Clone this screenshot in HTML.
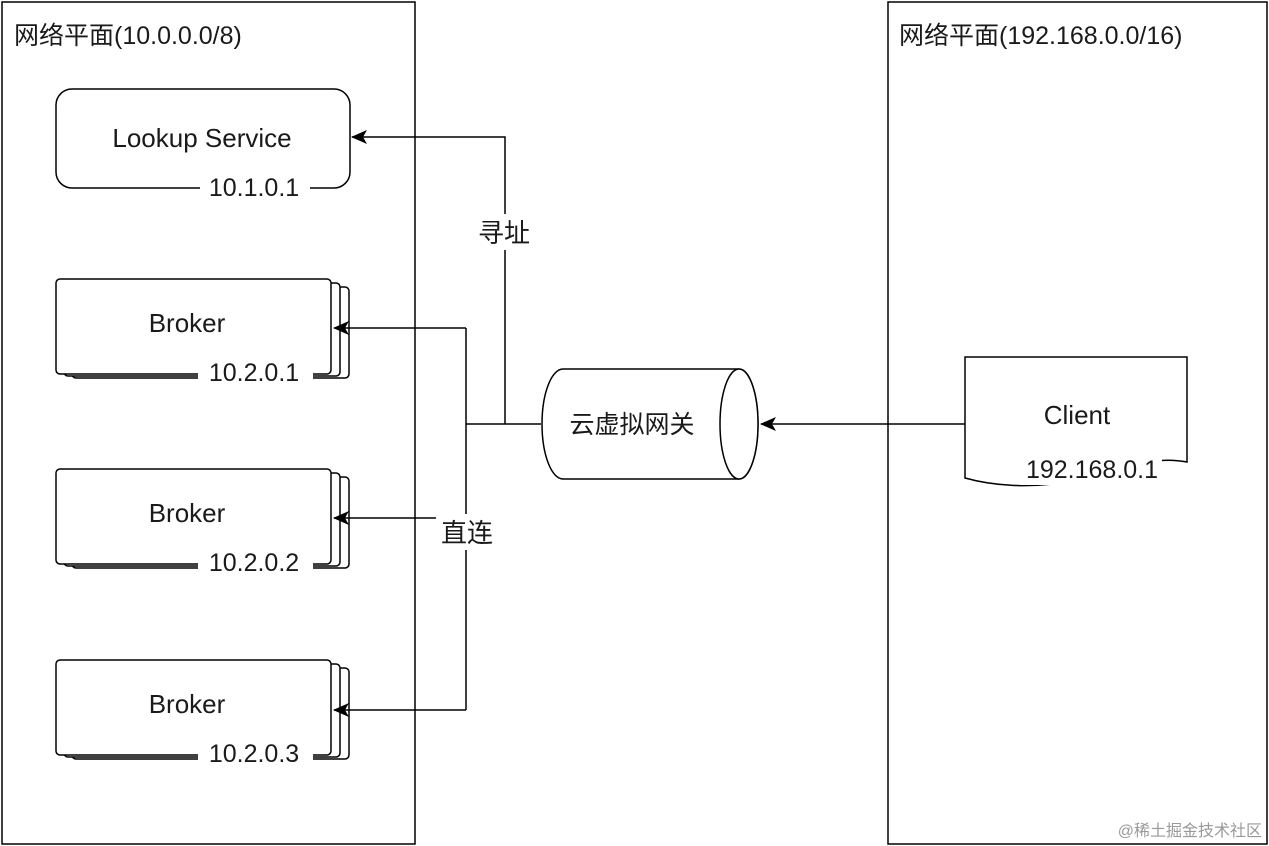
<!DOCTYPE html>
<html><head><meta charset="utf-8"><style>
html,body{margin:0;padding:0;background:#fff;}
svg{display:block;}
text{font-family:"Liberation Sans","Noto Sans CJK SC",sans-serif;fill:#1a1a1a;}
</style></head><body>
<svg width="1269" height="846" viewBox="0 0 1269 846" xmlns="http://www.w3.org/2000/svg">
<defs>
<marker id="ar" markerWidth="16" markerHeight="14" refX="15" refY="7" orient="auto" markerUnits="userSpaceOnUse">
<path d="M0,0 L16,7 L0,14 L4,7 Z" fill="#000"/>
</marker>
</defs>
<g fill="none" stroke="#000" stroke-width="1.5">
<rect x="2" y="2" width="413" height="842"/>
<rect x="888" y="2" width="379" height="842"/>
<rect x="56" y="89" width="294" height="99" rx="16"/>
</g>
<text x="14" y="44" font-size="25">网络平面(10.0.0.0/8)</text>
<text x="899" y="44" font-size="25">网络平面(192.168.0.0/16)</text>
<text x="202" y="147" font-size="26" text-anchor="middle">Lookup Service</text>
<rect x="200" y="178" width="110" height="18" fill="#fff"/>
<text x="254" y="196" font-size="25" text-anchor="middle">10.1.0.1</text>

<g id="b1">
<g fill="#fff" stroke="#000" stroke-width="1.5">
<rect x="72" y="287" width="277" height="91" rx="4"/>
<rect x="64" y="283" width="276" height="93" rx="4"/>
<rect x="56" y="279" width="275" height="95" rx="4"/>
</g>
</g>
<use href="#b1" y="190"/>
<use href="#b1" y="381"/>
<g fill="#fff">
<rect x="198" y="360" width="115" height="22"/>
<rect x="198" y="550" width="115" height="22"/>
<rect x="198" y="741" width="115" height="22"/>
</g>
<text x="187" y="332" font-size="26" text-anchor="middle">Broker</text>
<text x="254" y="381" font-size="25" text-anchor="middle">10.2.0.1</text>
<text x="187" y="522" font-size="26" text-anchor="middle">Broker</text>
<text x="254" y="571" font-size="25" text-anchor="middle">10.2.0.2</text>
<text x="187" y="713" font-size="26" text-anchor="middle">Broker</text>
<text x="254" y="762" font-size="25" text-anchor="middle">10.2.0.3</text>

<g fill="none" stroke="#000" stroke-width="1.5">
<line x1="541" y1="424" x2="466" y2="424"/>
<polyline points="505,424 505,137 352,137" marker-end="url(#ar)"/>
<line x1="466" y1="328" x2="466" y2="710"/>
<line x1="466" y1="328" x2="334" y2="328" marker-end="url(#ar)"/>
<line x1="466" y1="518" x2="334" y2="518" marker-end="url(#ar)"/>
<line x1="466" y1="710" x2="334" y2="710" marker-end="url(#ar)"/>
<line x1="965" y1="424" x2="761" y2="424" marker-end="url(#ar)"/>
</g>
<rect x="474" y="214" width="60" height="36" fill="#fff"/>
<text x="504" y="242" font-size="26" text-anchor="middle">寻址</text>
<rect x="436" y="514" width="62" height="36" fill="#fff"/>
<text x="467" y="542" font-size="26" text-anchor="middle">直连</text>

<g fill="#fff" stroke="#000" stroke-width="1.5">
<path d="M563,369 L739,369 A19,55 0 0 1 739,479 L563,479 A21,55 0 0 1 563,369 Z"/>
<ellipse cx="739" cy="424" rx="19" ry="55"/>
</g>
<text x="632" y="433" font-size="25" text-anchor="middle">云虚拟网关</text>

<path d="M965,357 L1187,357 L1187,462 C1150,455 1120,470 1076,480 C1030,490 990,485 965,478 Z" fill="#fff" stroke="#000" stroke-width="1.5"/>
<rect x="1020" y="450" width="142" height="35" fill="#fff"/>
<text x="1077" y="424" font-size="26" text-anchor="middle">Client</text>
<text x="1092" y="478" font-size="25" text-anchor="middle">192.168.0.1</text>

<text x="1262" y="836" font-size="16" text-anchor="end" style="fill:#999">@稀土掘金技术社区</text>
</svg>
</body></html>
